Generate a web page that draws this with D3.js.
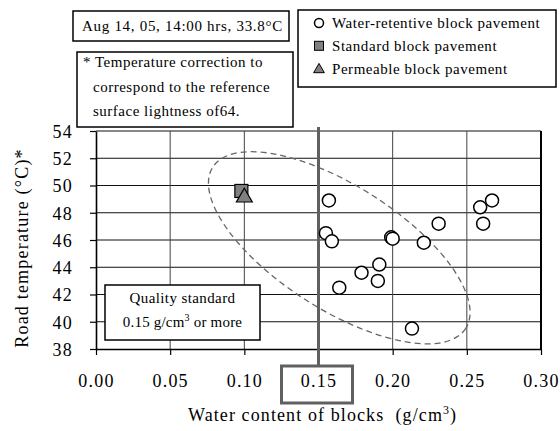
<!DOCTYPE html>
<html>
<head>
<meta charset="utf-8">
<script src="https://cdn.jsdelivr.net/npm/d3@7"></script>
<style>
  body { margin: 0; background: #fff; }
  svg text { font-family: "Liberation Serif", "Times New Roman", serif; fill: #000; }
</style>
</head>
<body>
<div id="chart"></div>
<script>
// water-retentive block pavement samples
const retentiveX = [0.157, 0.155, 0.159, 0.164, 0.179, 0.191, 0.190, 0.199, 0.200, 0.221, 0.231, 0.213, 0.259, 0.267, 0.261];
const retentiveY = [48.9, 46.5, 45.9, 42.5, 43.6, 44.2, 43.0, 46.2, 46.1, 45.8, 47.2, 39.5, 48.4, 48.9, 47.2];
const standardPt = [0.098, 49.6];
const permeablePt = [0.100, 49.2];

const xTicks = [0, 0.05, 0.10, 0.15, 0.20, 0.25, 0.30];
const yTicks = [38, 40, 42, 44, 46, 48, 50, 52, 54];
const legendLabels = ['Water-retentive block pavement', 'Standard block pavement', 'Permeable block pavement'];
const noteLines = ['* Temperature correction to', 'correspond to the reference', 'surface lightness of64.'];
const conditionText = 'Aug 14, 05, 14:00 hrs, 33.8°C';
const standardValue = 0.15;

const W = 560, H = 431;
const margin = {top: 131, right: 19, bottom: 82, left: 96};

const svg = d3.select('#chart').append('svg')
  .attr('width', W).attr('height', H);

const x = d3.scaleLinear().domain([0, 0.30]).range([margin.left, W - margin.right]);
const y = d3.scaleLinear().domain([38, 54]).range([H - margin.bottom, margin.top]);

// gridlines
svg.append('g').selectAll('line').data(yTicks.slice(1))
  .join('line')
  .attr('x1', x(0)).attr('x2', x(0.30))
  .attr('y1', d => y(d)).attr('y2', d => y(d))
  .attr('stroke', '#111').attr('stroke-width', 1);
svg.append('g').selectAll('line').data(xTicks.slice(1, -1))
  .join('line')
  .attr('x1', d => x(d)).attr('x2', d => x(d))
  .attr('y1', y(38)).attr('y2', y(54))
  .attr('stroke', '#444').attr('stroke-width', 1);
// right border
svg.append('line')
  .attr('x1', x(0.30)).attr('x2', x(0.30)).attr('y1', y(54)).attr('y2', y(38))
  .attr('stroke', '#000').attr('stroke-width', 2);

// axes
const yAxis = svg.append('g')
  .attr('transform', `translate(${x(0)},0)`)
  .call(d3.axisLeft(y).tickValues(yTicks).tickSize(6).tickSizeOuter(0).tickPadding(17));
const xAxis = svg.append('g')
  .attr('transform', `translate(0,${y(38)})`)
  .call(d3.axisBottom(x).tickValues(xTicks).tickFormat(d3.format('.2f')).tickSize(6).tickSizeOuter(0).tickPadding(19));
[yAxis, xAxis].forEach(g => {
  g.attr('font-family', null).attr('font-size', null);
  g.select('.domain').attr('stroke', '#000').attr('stroke-width', 1.6);
  g.selectAll('.tick line').attr('stroke', '#000').attr('stroke-width', 1.2);
  g.selectAll('.tick text').attr('font-size', 18).attr('letter-spacing', 1.2).attr('fill', '#000');
});
yAxis.selectAll('.tick text').attr('dy', '0.36em');

// dashed ellipse around retentive samples
const ell = {cx: 0.164, cy: 45.43, rx: 150, ry: 62, angle: 32.5};
svg.append('ellipse')
  .attr('cx', 0).attr('cy', 0).attr('rx', ell.rx).attr('ry', ell.ry)
  .attr('transform', `translate(${x(ell.cx)},${y(ell.cy)}) rotate(${ell.angle})`)
  .attr('fill', 'none').attr('stroke', '#666').attr('stroke-width', 1.3)
  .attr('stroke-dasharray', '6,4');

// quality standard line + box around tick
const qx = x(standardValue);
svg.append('line')
  .attr('x1', qx).attr('x2', qx).attr('y1', y(54) - 4).attr('y2', 366)
  .attr('stroke', '#606060').attr('stroke-width', 3);
svg.append('rect')
  .attr('x', qx - 37).attr('y', 366).attr('width', 71).attr('height', 37)
  .attr('fill', 'none').attr('stroke', '#606060').attr('stroke-width', 3);

// markers
const retentive = retentiveX.map((v, i) => [v, retentiveY[i]]);
svg.append('g').selectAll('circle').data(retentive)
  .join('circle')
  .attr('cx', d => x(d[0])).attr('cy', d => y(d[1])).attr('r', 6.5)
  .attr('fill', '#fff').attr('stroke', '#000').attr('stroke-width', 1.5);
svg.append('rect')
  .attr('x', x(standardPt[0]) - 6.5).attr('y', y(standardPt[1]) - 6.5)
  .attr('width', 13).attr('height', 13)
  .attr('fill', '#808080').attr('stroke', '#000').attr('stroke-width', 1.2);
svg.append('path')
  .attr('d', d3.symbol(d3.symbolTriangle, 110)())
  .attr('transform', `translate(${x(permeablePt[0])},${y(permeablePt[1]) + 1})`)
  .attr('fill', '#808080').attr('stroke', '#000').attr('stroke-width', 1.2);

// axis titles
svg.append('text')
  .attr('transform', `translate(28,${(y(38) + y(54)) / 2 + 8}) rotate(-90)`)
  .attr('text-anchor', 'middle').attr('font-size', 18).attr('letter-spacing', 1.2)
  .text('Road temperature (°C)*');
const xt = svg.append('text')
  .attr('x', 188).attr('y', 421).attr('font-size', 18).attr('letter-spacing', 1.1);
xt.append('tspan').text('Water content of blocks \u00a0(g/cm');
xt.append('tspan').attr('font-size', 12).attr('dy', -7).text('3');
xt.append('tspan').attr('dy', 7).text(')');

// condition box
svg.append('rect').attr('x', 73).attr('y', 11).attr('width', 216).attr('height', 30)
  .attr('fill', '#fff').attr('stroke', '#000').attr('stroke-width', 1.5);
svg.append('text').attr('x', 82).attr('y', 31).attr('font-size', 15).attr('letter-spacing', 0.7)
  .text(conditionText);

// note box
svg.append('rect').attr('x', 77).attr('y', 52).attr('width', 216).attr('height', 75)
  .attr('fill', '#fff').attr('stroke', '#000').attr('stroke-width', 1.5);
svg.append('g').selectAll('text').data(noteLines)
  .join('text')
  .attr('x', (d, i) => i === 0 ? 83 : 93)
  .attr('y', (d, i) => 67 + i * 24.5)
  .attr('font-size', 15).attr('letter-spacing', 0.5).text(d => d);

// legend
svg.append('rect').attr('x', 298).attr('y', 10).attr('width', 258).attr('height', 77)
  .attr('fill', '#fff').attr('stroke', '#000').attr('stroke-width', 1.5);
const lg = svg.append('g').selectAll('g').data(legendLabels)
  .join('g').attr('transform', (d, i) => `translate(319,${23 + i * 22.8})`);
lg.append('text').attr('x', 13).attr('dy', '0.35em').attr('font-size', 15)
  .attr('letter-spacing', 0.55).text(d => d);
lg.filter((d, i) => i === 0).append('circle').attr('r', 4.5)
  .attr('fill', '#fff').attr('stroke', '#000').attr('stroke-width', 1.5);
lg.filter((d, i) => i === 1).append('rect').attr('x', -4.5).attr('y', -4.5)
  .attr('width', 9).attr('height', 9).attr('fill', '#808080').attr('stroke', '#000');
lg.filter((d, i) => i === 2).append('path').attr('d', d3.symbol(d3.symbolTriangle, 50)())
  .attr('transform', 'translate(0,1)')
  .attr('fill', '#808080').attr('stroke', '#000');

// quality standard box
svg.append('rect').attr('x', 105).attr('y', 285).attr('width', 155).attr('height', 55)
  .attr('fill', '#fff').attr('stroke', '#000').attr('stroke-width', 1.5);
svg.append('text').attr('x', 182.5).attr('y', 303).attr('text-anchor', 'middle')
  .attr('font-size', 15).attr('letter-spacing', 0.4).text('Quality standard');
const qt = svg.append('text').attr('x', 182.5).attr('y', 327).attr('text-anchor', 'middle')
  .attr('font-size', 15).attr('letter-spacing', 0.2);
qt.append('tspan').text('0.15 g/cm');
qt.append('tspan').attr('font-size', 10).attr('dy', -6).text('3');
qt.append('tspan').attr('dy', 6).text(' or more');
</script>
</body>
</html>
